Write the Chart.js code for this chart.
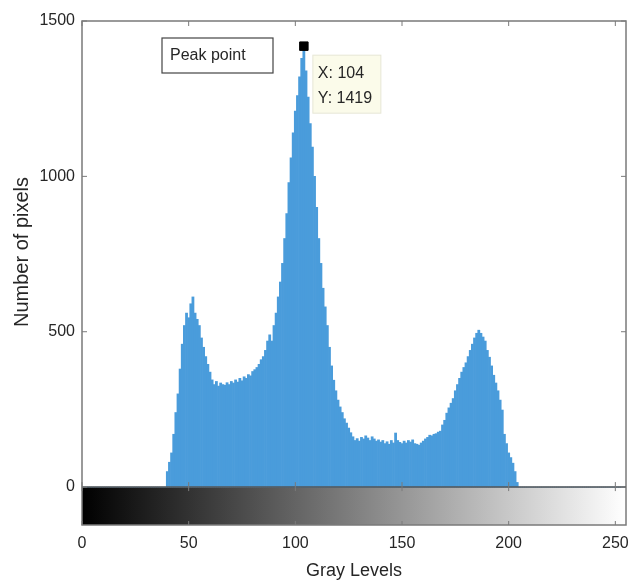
<!DOCTYPE html>
<html>
<head>
<meta charset="utf-8">
<script src="https://cdn.jsdelivr.net/npm/chart.js@4.4.1/dist/chart.umd.min.js"></script>
<style>
  html, body { margin: 0; padding: 0; background: #fff; }
  #wrap { width: 638px; height: 581px; }
</style>
</head>
<body>
<div id="wrap"><canvas id="histChart" width="638" height="581"></canvas></div>
<script>
// gray level histogram
const firstLevel = 40;
const counts = [
  50, 80, 110, 170, 240, 300, 380, 460, 520, 560,          // 40-49
  545, 590, 612, 560, 540, 520, 480, 450, 420, 395,        // 50-59
  370, 345, 330, 340, 325, 335, 330, 328, 336, 330,        // 60-69
  340, 335, 345, 338, 350, 342, 355, 350, 362, 358,        // 70-79
  372, 378, 385, 395, 410, 420, 440, 470, 490, 470,        // 80-89
  520, 560, 612, 660, 720, 800, 880, 980, 1060, 1140,      // 90-99
  1210, 1260, 1320, 1380, 1419, 1340, 1255, 1170, 1094, 1000, // 100-109
  900, 800, 720, 640, 580, 520, 450, 390, 344, 310,        // 110-119
  280, 258, 240, 220, 206, 190, 175, 162, 150, 156,        // 120-129
  148, 160, 155, 165, 158, 150, 162, 155, 148, 152,        // 130-139
  145, 150, 140, 146, 138, 150, 142, 174, 150, 144,        // 140-149
  140, 148, 142, 150, 145, 152, 140, 138, 135, 142,        // 150-159
  148, 155, 160, 167, 165, 170, 172, 177, 180, 200,        // 160-169
  215, 238, 255, 270, 285, 310, 330, 350, 370, 385,        // 170-179
  400, 420, 440, 460, 480, 495, 505, 495, 483, 470,        // 180-189
  440, 418, 390, 360, 335, 310, 280, 248, 170, 140,        // 190-199
  110, 95, 77, 50, 15                                      // 200-204
];
const peakPoint = { x: 104, y: 1419 };
const xTicks = [0, 50, 100, 150, 200, 250];
const yTicks = [0, 500, 1000, 1500];

const histData = [];
for (let g = 0; g <= 255; g++) {
  const k = g - firstLevel;
  histData.push({ x: g, y: (k >= 0 && k < counts.length) ? counts[k] : 0 });
}

const frameColor = '#7a7a7a';
const textColor = '#262626';
const fontFam = 'Arial, "Liberation Sans", Helvetica, sans-serif';

const decorPlugin = {
  id: 'decor',
  beforeDatasetsDraw(chart) {
    const { ctx, chartArea: a, scales: { x, y } } = chart;
    const y0 = y.getPixelForValue(0);
    // gray colorbar under the histogram
    const g = ctx.createLinearGradient(x.getPixelForValue(0), 0, x.getPixelForValue(255), 0);
    g.addColorStop(0, '#000000');
    g.addColorStop(1, '#ffffff');
    ctx.save();
    ctx.fillStyle = g;
    ctx.fillRect(a.left, y0, a.right - a.left, a.bottom - y0);
    ctx.restore();
  },
  afterDraw(chart) {
    const { ctx, chartArea: a, scales: { x, y } } = chart;
    const y0 = y.getPixelForValue(0);
    ctx.save();
    // frame
    ctx.strokeStyle = frameColor;
    ctx.lineWidth = 1.5;
    ctx.strokeRect(a.left, a.top, a.right - a.left, a.bottom - a.top);
    ctx.strokeStyle = '#555';
    ctx.beginPath();
    ctx.moveTo(a.left, y0);
    ctx.lineTo(a.right, y0);
    ctx.stroke();

    // inward tick marks
    ctx.strokeStyle = frameColor;
    ctx.lineWidth = 1;
    ctx.beginPath();
    xTicks.forEach(v => {
      const px = x.getPixelForValue(v);
      ctx.moveTo(px, a.top); ctx.lineTo(px, a.top + 5);
      ctx.moveTo(px, y0); ctx.lineTo(px, y0 - 5);
      ctx.moveTo(px, y0); ctx.lineTo(px, y0 + 4);
      ctx.moveTo(px, a.bottom); ctx.lineTo(px, a.bottom - 4);
    });
    yTicks.forEach(v => {
      const py = y.getPixelForValue(v);
      ctx.moveTo(a.left, py); ctx.lineTo(a.left + 5, py);
      ctx.moveTo(a.right, py); ctx.lineTo(a.right - 5, py);
    });
    ctx.stroke();

    // legend box
    ctx.fillStyle = '#fff';
    ctx.fillRect(162, 38, 111, 35);
    ctx.strokeStyle = '#444';
    ctx.lineWidth = 1.2;
    ctx.strokeRect(162, 38, 111, 35);
    ctx.fillStyle = textColor;
    ctx.font = '16px ' + fontFam;
    ctx.textBaseline = 'middle';
    ctx.textAlign = 'left';
    ctx.fillText('Peak point', 170, 56);

    // data tip
    const px = x.getPixelForValue(peakPoint.x);
    const py = y.getPixelForValue(peakPoint.y);
    const bx = px + 9, by = py + 9;
    ctx.fillStyle = '#fbfbea';
    ctx.fillRect(bx, by, 68, 58);
    ctx.strokeStyle = '#e6e6d6';
    ctx.lineWidth = 1;
    ctx.strokeRect(bx, by, 68, 58);
    ctx.fillStyle = textColor;
    ctx.font = '16px ' + fontFam;
    ctx.fillText('X: ' + peakPoint.x, bx + 5, by + 18);
    ctx.fillText('Y: ' + peakPoint.y, bx + 5, by + 43);

    // y axis title
    ctx.translate(22, 252);
    ctx.rotate(-Math.PI / 2);
    ctx.textAlign = 'center';
    ctx.font = '20px ' + fontFam;
    ctx.fillText('Number of pixels', 0, 0);
    ctx.restore();
  }
};

new Chart(document.getElementById('histChart'), {
  type: 'bar',
  data: {
    datasets: [
      {
        type: 'scatter',
        data: [peakPoint],
        pointStyle: 'rect',
        radius: 6,
        backgroundColor: '#000',
        borderColor: '#000',
        order: 0
      },
      {
        data: histData,
        backgroundColor: '#4a9cdb',
        borderWidth: 0,
        barPercentage: 1,
        categoryPercentage: 1,
        order: 1
      }
    ]
  },
  options: {
    responsive: false,
    animation: false,
    layout: { padding: { top: 21, right: 12, bottom: 0, left: 0 } },
    plugins: { legend: { display: false }, tooltip: { enabled: false } },
    scales: {
      x: {
        type: 'linear',
        min: 0,
        max: 255,
        offset: false,
        grid: { display: false, drawTicks: false },
        border: { display: false },
        afterBuildTicks: s => { s.ticks = xTicks.map(v => ({ value: v })); },
        afterFit: s => { s.height = 56; },
        ticks: {
          color: textColor, padding: 9, font: { size: 16, family: fontFam },
          callback: v => String(v)
        },
        title: {
          display: true,
          text: 'Gray Levels',
          color: textColor,
          padding: { top: 0, bottom: -1 },
          font: { size: 18, family: fontFam }
        }
      },
      y: {
        min: -122,
        max: 1500,
        grid: { display: false, drawTicks: false },
        border: { display: false },
        afterBuildTicks: s => { s.ticks = yTicks.map(v => ({ value: v })); },
        afterFit: s => { s.width = 82; },
        ticks: {
          color: textColor, padding: 7, font: { size: 16, family: fontFam },
          callback: v => String(v)
        }
      }
    }
  },
  plugins: [decorPlugin]
});
</script>
</body>
</html>
